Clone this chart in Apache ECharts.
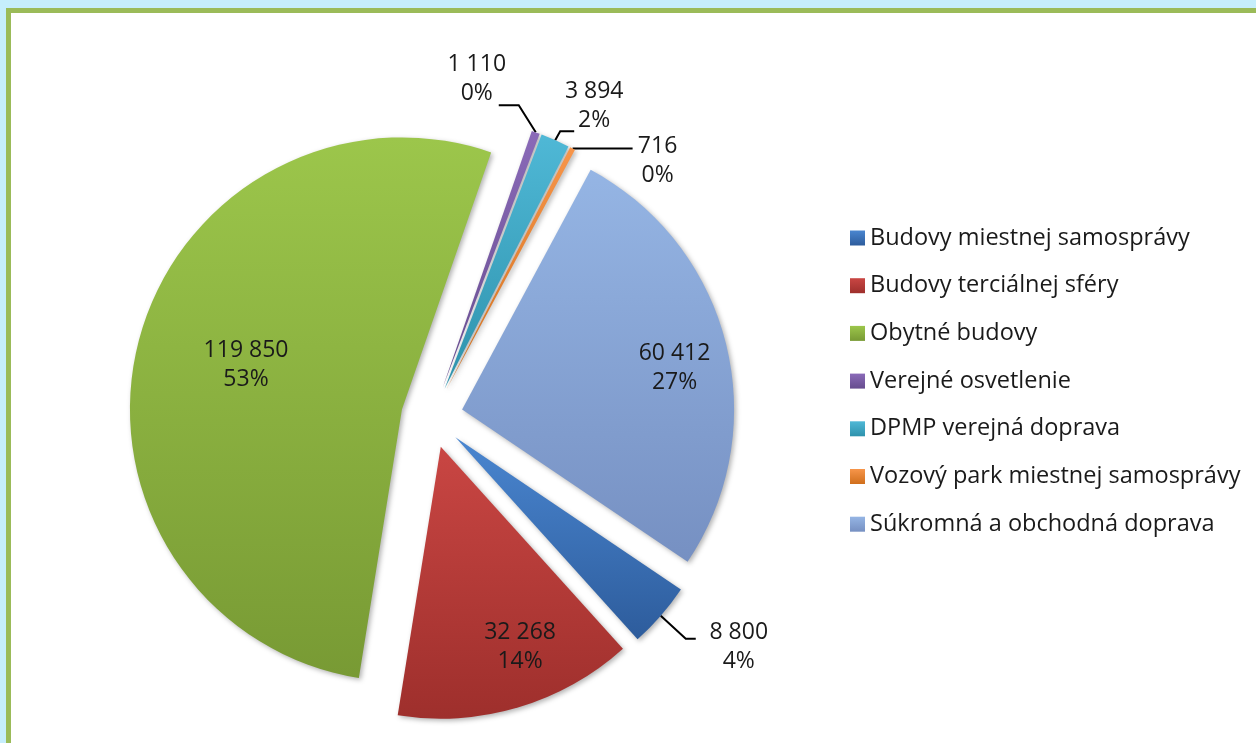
<!DOCTYPE html>
<html>
<head>
<meta charset="utf-8">
<script src="https://cdn.jsdelivr.net/npm/echarts@6/dist/echarts.min.js"></script>
<style>
  html, body { margin: 0; padding: 0; }
  body { width: 1256px; height: 743px; background: #c6eefc; position: relative; overflow: hidden; }
  .frame {
    position: absolute; left: 6px; top: 8px; right: -10px; bottom: -10px;
    background: #fff; border-top: 5px solid #9bbb59; border-left: 5px solid #9bbb59;
  }
  #chart { position: absolute; left: 0; top: 0; width: 1256px; height: 743px; }
</style>
</head>
<body>
<div class="frame"></div>
<div id="chart"></div>
<script>
// data
const categories = [
  'Budovy miestnej samosprávy',
  'Budovy terciálnej sféry',
  'Obytné budovy',
  'Verejné osvetlenie',
  'DPMP verejná doprava',
  'Vozový park miestnej samosprávy',
  'Súkromná a obchodná doprava'
]
const values = [8800, 32268, 119850, 1110, 3894, 716, 60412]

// styles
const colorsTop = ['#4a86d0', '#c94643', '#9cc64b', '#8a6ab8', '#4fb8d6', '#f7954a', '#95b5e4']
const colorsBottom = ['#2d5c9c', '#9e2f2c', '#789a34', '#664c8e', '#2e92ac', '#d06f1c', '#7690c2']
const labelInside = [false, true, true, false, false, false, true]
// inside labels: distance from pie centre (fraction of radius) and turn from the slice middle (deg, clockwise)
const labelDist = [0, 0.905, 0.71, 0, 0, 0, 0.91]
const labelTurn = [0, -4.5, 1.5, 0, 0, 0, 2.4]
// outside labels: leader line elbow (from slice tip), horizontal run, label centre (from line end)
const leader = {
  0: { elbow: [25, 23], run: 10, text: [43, 8] },
  3: { elbow: [-17, -27], run: -20, text: [-22, -26] },
  4: { elbow: [5, -9], run: 14, text: [20, -25] },
  5: { elbow: [50, 0], run: 10, text: [25, 12] }
}

const center = [432, 417]
const radius = 272
const explode = 31
const fontFamily = '"Open Sans", "Noto Sans", sans-serif'

const total = values.reduce((a, b) => a + b, 0)
const fmtNum = v => String(v).replace(/\B(?=(\d{3})+(?!\d))/g, ' ')

const chart = echarts.init(document.getElementById('chart'))

const base = {
  type: 'pie',
  center,
  radius,
  startAngle: -34,
  clockwise: true,
  emphasis: { disabled: true }
}

// label positions, moved from the library's default layout
function placeLabel (p) {
  const i = p.dataIndex
  const r = p.labelRect
  if (labelInside[i]) {
    const cx = r.x + r.width / 2
    const cy = r.y + r.height / 2
    const len = Math.hypot(cx - center[0], cy - center[1]) || 1
    const ux = (cx - center[0]) / len
    const uy = (cy - center[1]) / len
    const t = labelTurn[i] * Math.PI / 180
    const rx = ux * Math.cos(t) - uy * Math.sin(t)
    const ry = ux * Math.sin(t) + uy * Math.cos(t)
    const d = labelDist[i] * radius
    return { x: center[0] + rx * d, y: center[1] + ry * d, align: 'center', verticalAlign: 'middle' }
  }
  const cfg = leader[i]
  const pts = p.labelLinePoints
  if (!cfg || !pts) return {}
  const p0 = pts[0]
  const vx = p0[0] - center[0]
  const vy = p0[1] - center[1]
  const len = Math.hypot(vx, vy) || 1
  const tip = [p0[0] + vx / len * explode, p0[1] + vy / len * explode]
  const elbow = [tip[0] + cfg.elbow[0], tip[1] + cfg.elbow[1]]
  const end = [elbow[0] + cfg.run, elbow[1]]
  return {
    x: end[0] + cfg.text[0],
    y: end[1] + cfg.text[1],
    align: 'center',
    verticalAlign: 'middle',
    labelLinePoints: [tip, elbow, end]
  }
}

chart.setOption({
  animation: false,
  legend: {
    orient: 'vertical',
    left: 845,
    top: 221,
    itemWidth: 15,
    itemHeight: 15,
    itemGap: 23.7,
    icon: 'rect',
    textStyle: { fontFamily, fontSize: 23.5, lineHeight: 24, color: '#1a1a1a' },
    data: categories
  },
  series: [
    // exploded slices
    Object.assign({}, base, {
      selectedMode: 'multiple',
      selectedOffset: explode,
      itemStyle: {
        shadowBlur: 5,
        shadowColor: 'rgba(0,0,0,0.3)',
        shadowOffsetX: 2,
        shadowOffsetY: 2
      },
      label: { show: false },
      labelLine: { show: false },
      data: categories.map((name, i) => ({
        name,
        value: values[i],
        selected: true,
        itemStyle: {
          color: new echarts.graphic.LinearGradient(0, 0, 0, 1, [
            { offset: 0, color: colorsTop[i] },
            { offset: 1, color: colorsBottom[i] }
          ])
        }
      }))
    }),
    // data labels
    Object.assign({}, base, {
      silent: true,
      selectedMode: false,
      itemStyle: { color: 'rgba(0,0,0,0)' },
      label: {
        fontFamily,
        fontSize: 23,
        lineHeight: 29,
        color: '#1a1a1a',
        formatter: p => fmtNum(p.value) + '\n' + Math.round(p.value / total * 100) + '%'
      },
      labelLine: {
        length: 20,
        length2: 10,
        lineStyle: { color: '#000', width: 2 }
      },
      labelLayout: placeLabel,
      data: categories.map((name, i) => ({
        name,
        value: values[i],
        label: { position: labelInside[i] ? 'inside' : 'outside' },
        labelLine: { show: !labelInside[i] }
      }))
    })
  ]
})
</script>
</body>
</html>
